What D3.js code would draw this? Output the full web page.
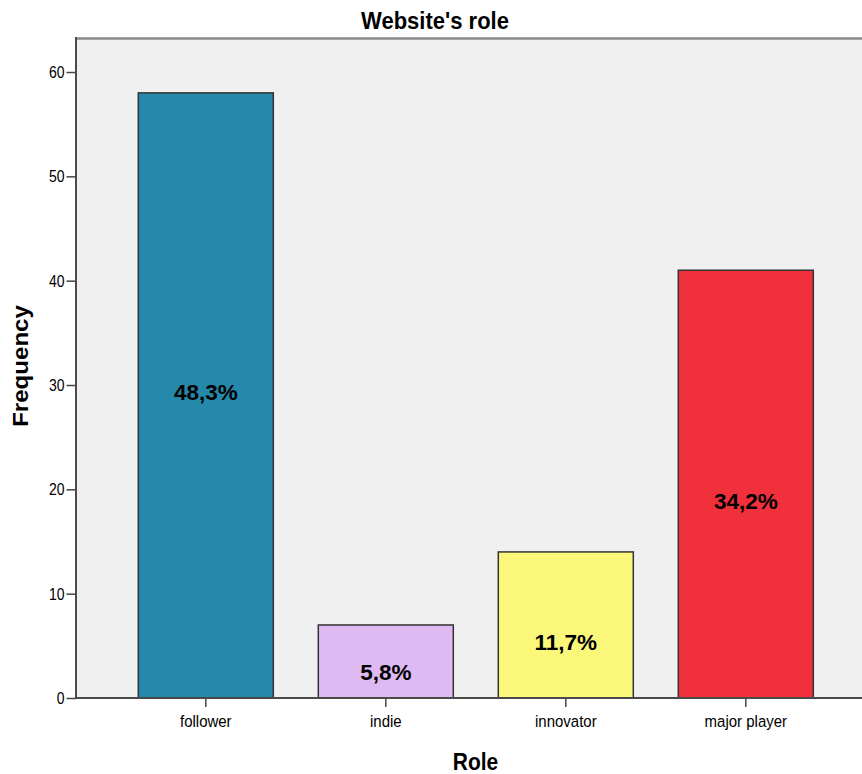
<!DOCTYPE html>
<html><head><meta charset="utf-8">
<script src="https://cdn.jsdelivr.net/npm/d3@7"></script>
<style>body{margin:0;background:#fff}svg{display:block}text{font-family:"Liberation Sans",Arial,sans-serif;fill:#000}</style>
</head><body>
<script>
const categories = ["follower", "indie", "innovator", "major player"];
const frequencies = [58, 7, 14, 41];
const percentLabels = ["48,3%", "5,8%", "11,7%", "34,2%"];
const labelAt = [29.3, 2.5, 5.4, 18.9];
const barColors = ["#2489aa", "#dfb9f1", "#fbf77a", "#f0313b"];
const yTicks = [0, 10, 20, 30, 40, 50, 60];

const W = 862, H = 774;
const L = 77, R = 862, T = 38, B = 698;
const SY = 1.12;

const svg = d3.select("body").append("svg").attr("width", W).attr("height", H);

const x = d3.scaleBand().domain(categories).range([115.8, 835.8]).paddingInner(0.25).paddingOuter(0.125);
const y = d3.scaleLinear().domain([0, 63.26]).range([B, T]);

svg.append("rect").attr("x", L).attr("y", T).attr("width", R - L).attr("height", B - T).attr("fill", "#f0f0f0");
svg.append("line").attr("x1", L).attr("x2", R).attr("y1", T + 0.5).attr("y2", T + 0.5).attr("stroke", "#8a8a8a").attr("stroke-width", 2.5);

// bars
svg.selectAll("rect.bar").data(categories).enter().append("rect")
  .attr("class", "bar")
  .attr("x", d => x(d))
  .attr("y", (d, i) => y(frequencies[i]))
  .attr("width", x.bandwidth())
  .attr("height", (d, i) => y(0) - y(frequencies[i]))
  .attr("fill", (d, i) => barColors[i])
  .attr("stroke", "#333").attr("stroke-width", 1.5);

// percent labels
svg.selectAll("text.pct").data(categories).enter().append("text")
  .attr("class", "pct")
  .attr("x", d => x(d) + x.bandwidth() / 2)
  .attr("y", (d, i) => y(labelAt[i]))
  .attr("dy", "0.36em")
  .attr("text-anchor", "middle")
  .attr("font-size", 22.5).attr("font-weight", "bold")
  .text((d, i) => percentLabels[i]);

// y axis
const yAxis = d3.axisLeft(y).tickValues(yTicks).tickSize(10).tickFormat(d3.format("d"));
const gy = svg.append("g").attr("transform", `translate(${L - 0.5},0)`).call(yAxis);
gy.select(".domain").remove();
gy.selectAll(".tick line").attr("stroke", "#444").attr("stroke-width", 1.5);
gy.selectAll(".tick text").attr("font-size", 14).attr("fill", "#111")
  .attr("x", -12).attr("dy", null).attr("y", 0)
  .attr("transform", `scale(1,${SY}) translate(0,5)`);
svg.append("line").attr("x1", L - 1).attr("x2", L - 1).attr("y1", T - 1).attr("y2", B + 1).attr("stroke", "#4a4a4a").attr("stroke-width", 2);

// x axis
const xAxis = d3.axisBottom(x).tickSize(9).tickSizeOuter(0);
const gx = svg.append("g").attr("transform", `translate(0,${B})`).call(xAxis);
gx.select(".domain").remove();
gx.selectAll(".tick line").attr("stroke", "#444").attr("stroke-width", 1.5);
gx.selectAll(".tick text").attr("font-size", 15).attr("fill", "#111")
  .attr("y", 0).attr("dy", null)
  .attr("transform", `translate(0,29) scale(1,${SY})`);
svg.append("line").attr("x1", L - 2).attr("x2", R).attr("y1", B).attr("y2", B).attr("stroke", "#4a4a4a").attr("stroke-width", 2);

// titles
svg.append("text").attr("transform", `translate(435,29) scale(1,${SY})`)
  .attr("text-anchor", "middle").attr("font-size", 22).attr("font-weight", "bold")
  .text("Website's role");
svg.append("text").attr("transform", `translate(475.5,770) scale(1,${SY})`)
  .attr("text-anchor", "middle").attr("font-size", 21).attr("font-weight", "bold")
  .text("Role");
svg.append("text").attr("transform", `translate(28,366) scale(1,${SY}) rotate(-90)`)
  .attr("text-anchor", "middle").attr("font-size", 21.5).attr("font-weight", "bold")
  .text("Frequency");
</script>
</body></html>
